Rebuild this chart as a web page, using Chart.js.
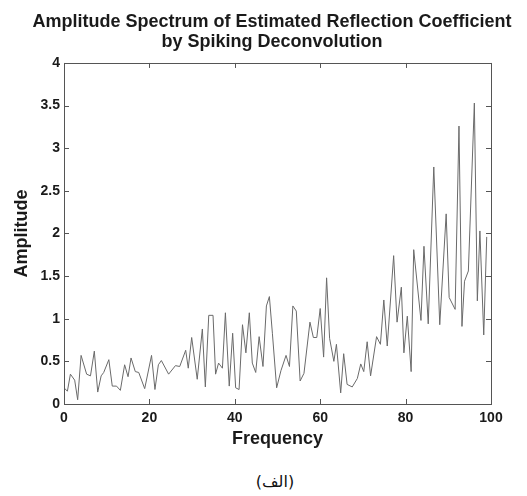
<!DOCTYPE html>
<html>
<head>
<meta charset="utf-8">
<script src="https://cdn.jsdelivr.net/npm/chart.js@4/dist/chart.umd.min.js"></script>
<style>
  html,body{margin:0;padding:0;background:#fff;}
  #wrap{position:relative;width:527px;height:496px;}
  #caption{position:absolute;left:0;width:550px;top:472px;text-align:center;font:16px "DejaVu Sans",sans-serif;color:#111;}
</style>
</head>
<body>
<div id="wrap">
  <canvas id="spec" width="527" height="455"></canvas>
  <div id="caption">(الف)</div>
</div>
<script>
/* ---- data ---- */
const titleLines = ['Amplitude Spectrum of Estimated Reflection Coefficient', 'by Spiking Deconvolution'];
const xLabel = 'Frequency';
const yLabel = 'Amplitude';

const freqs = [0, 0.8, 1.5, 2.5, 3.2, 4.0, 5.3, 6.2, 7.1, 7.9,
  8.7, 9.3, 10.5, 11.3, 12.3, 13.2, 14.2, 15.0, 15.7, 16.7,
  17.5, 18.9, 20.5, 21.3, 22.1, 22.8, 24.5, 26.1, 27.1, 28.5,
  29.1, 29.9, 31.2, 32.4, 33.1, 33.9, 34.9, 35.5, 36.2, 37.1,
  37.8, 38.7, 39.5, 40.2, 41.0, 41.8, 42.6, 43.4, 44.1, 44.9,
  45.7, 46.6, 47.4, 48.1, 48.8, 49.8, 50.8, 52.0, 52.8, 53.6,
  54.4, 55.3, 56.2, 57.6, 58.4, 59.2, 60.0, 60.8, 61.5, 62.2,
  63.2, 63.8, 64.8, 65.5, 66.3, 67.5, 68.7, 69.5, 70.2, 71.0,
  71.8, 73.2, 74.1, 74.9, 75.7, 77.2, 78.0, 79.0, 79.6, 80.4,
  81.3, 81.9, 83.6, 84.3, 85.3, 86.6, 88.0, 89.5, 90.2, 91.6,
  92.5, 93.2, 93.8, 94.7, 96.1, 96.8, 97.4, 98.3, 99.0];

const amps = [0.19, 0.15, 0.35, 0.28, 0.05, 0.57, 0.35, 0.33, 0.62, 0.14,
  0.33, 0.37, 0.52, 0.21, 0.21, 0.16, 0.46, 0.32, 0.54, 0.38,
  0.37, 0.18, 0.57, 0.17, 0.46, 0.51, 0.35, 0.45, 0.44, 0.63,
  0.42, 0.78, 0.29, 0.88, 0.20, 1.04, 1.04, 0.35, 0.48, 0.42,
  1.07, 0.21, 0.83, 0.19, 0.17, 0.93, 0.60, 1.07, 0.48, 0.37,
  0.79, 0.44, 1.15, 1.26, 0.83, 0.19, 0.39, 0.57, 0.44, 1.15,
  1.09, 0.27, 0.36, 0.96, 0.78, 0.78, 1.12, 0.55, 1.48, 0.77,
  0.50, 0.70, 0.13, 0.59, 0.23, 0.20, 0.30, 0.47, 0.38, 0.73,
  0.33, 0.79, 0.70, 1.22, 0.68, 1.74, 0.96, 1.37, 0.60, 1.03,
  0.38, 1.81, 0.98, 1.85, 0.94, 2.78, 0.93, 2.23, 1.25, 1.11,
  3.26, 0.91, 1.44, 1.56, 3.53, 1.21, 2.03, 0.81, 1.96];

const xMin = 0, xMax = 100, xStep = 20;
const yMin = 0, yMax = 4, yStep = 0.5;

const ink = '#1a1a1a';
const FONT = '"Liberation Sans", Arial, sans-serif';

// matlab style box with inward ticks
const boxPlugin = {
  id: 'box',
  afterLayout(chart){
    // title in the reference is centred on the whole figure, not the padded area
    if(chart.titleBlock){ chart.titleBlock.left = 0; chart.titleBlock.right = 544; chart.titleBlock.width = 544; }
  },
  afterDraw(chart){
    const {ctx, chartArea:a, scales:{x, y}} = chart;
    ctx.save();
    ctx.strokeStyle = '#555';
    ctx.lineWidth = 1;
    ctx.strokeRect(Math.round(a.left)+0.5, Math.round(a.top)+0.5, Math.round(a.right-a.left), Math.round(a.bottom-a.top));
    ctx.beginPath();
    x.ticks.forEach(t=>{
      const px = Math.round(x.getPixelForValue(t.value))+0.5;
      ctx.moveTo(px, a.bottom); ctx.lineTo(px, a.bottom-5);
      ctx.moveTo(px, a.top); ctx.lineTo(px, a.top+5);
    });
    y.ticks.forEach(t=>{
      const py = Math.round(y.getPixelForValue(t.value))+0.5;
      ctx.moveTo(a.left, py); ctx.lineTo(a.left+5, py);
      ctx.moveTo(a.right, py); ctx.lineTo(a.right-5, py);
    });
    ctx.stroke();
    ctx.restore();
  }
};

new Chart(document.getElementById('spec'), {
  type:'line',
  data:{ datasets:[{
    data: freqs.map((f,i)=>({x:f, y:amps[i]})),
    borderColor:'#6a6a6a', borderWidth:1, pointRadius:0, tension:0, fill:false
  }]},
  options:{
    responsive:false, animation:false, devicePixelRatio:1,
    layout:{ padding:{left:0, right:36, top:0, bottom:0} },
    plugins:{
      legend:{display:false}, tooltip:{enabled:false},
      title:{ display:true, text:titleLines, color:ink,
        font:{family:FONT, size:18, weight:'bold', lineHeight:1.11},
        padding:{top:12, bottom:11} }
    },
    scales:{
      x:{ type:'linear', min:xMin, max:xMax,
        ticks:{stepSize:xStep, color:ink, padding:6, maxRotation:0,
          font:{family:FONT, size:14, weight:'bold'}},
        grid:{display:false, drawTicks:false}, border:{display:false},
        title:{display:true, text:xLabel, color:ink, padding:{top:0, bottom:5},
          font:{family:FONT, size:18, weight:'bold'}},
        afterFit:s=>{ s.height = 51; } },
      y:{ type:'linear', min:yMin, max:yMax,
        ticks:{stepSize:yStep, color:ink, padding:4, callback:v=>String(v),
          font:{family:FONT, size:14, weight:'bold'}},
        grid:{display:false, drawTicks:false}, border:{display:false},
        title:{display:true, text:yLabel, color:ink, padding:{top:11, bottom:0},
          font:{family:FONT, size:18, weight:'bold'}},
        afterFit:s=>{ s.width = 64; } }
    }
  },
  plugins:[boxPlugin]
});
</script>
</body>
</html>
